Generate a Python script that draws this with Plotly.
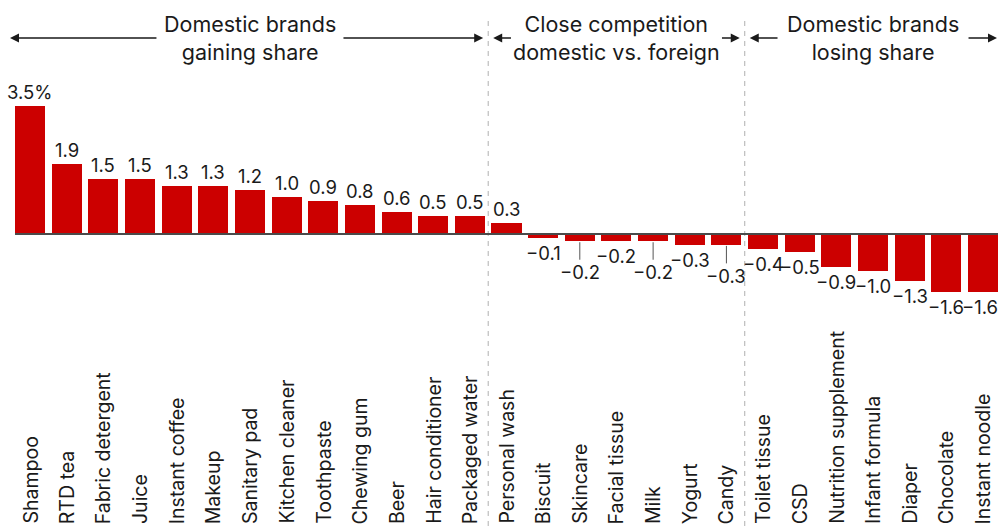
import plotly.graph_objects as go

# Change in domestic brands' market share by category (percentage points)
categories = [
    "Shampoo", "RTD tea", "Fabric detergent", "Juice", "Instant coffee",
    "Makeup", "Sanitary pad", "Kitchen cleaner", "Toothpaste", "Chewing gum",
    "Beer", "Hair conditioner", "Packaged water", "Personal wash", "Biscuit",
    "Skincare", "Facial tissue", "Milk", "Yogurt", "Candy", "Toilet tissue",
    "CSD", "Nutrition supplement", "Infant formula", "Diaper", "Chocolate",
    "Instant noodle",
]
share_change = [
    3.5, 1.9, 1.5, 1.5, 1.3, 1.3, 1.2, 1.0, 0.9, 0.8, 0.6, 0.5, 0.5, 0.3,
    -0.1, -0.2, -0.2, -0.2, -0.3, -0.3, -0.4, -0.5, -0.9, -1.0, -1.3, -1.6,
    -1.6,
]
group_titles = [
    "Domestic brands<br>gaining share",
    "Close competition<br>domestic vs. foreign",
    "Domestic brands<br>losing share",
]
group_sizes = [13, 7, 7]
# categories whose value label is dropped lower with a short leader line
leader_labels = ["Skincare", "Milk", "Candy"]

W, H = 998, 526
X_RANGE = [-0.82, 26.41]
Y_RANGE = [-7.98, 6.39]
FONT = "Inter"
RED = "#cc0000"
INK = "#1a1a1a"


def x_to_px(x):
    return (x - X_RANGE[0]) / (X_RANGE[1] - X_RANGE[0]) * W


def fmt(v, first):
    s = f"{abs(v):.1f}"
    if v < 0:
        s = "\u2212" + s
    return s + ("%" if first else "")


idx = list(range(len(categories)))

fig = go.Figure(
    go.Bar(
        x=idx,
        y=share_change,
        width=0.82,
        marker=dict(color=RED, line=dict(width=0)),
        hoverinfo="skip",
    )
)

shapes = []
annotations = []

# zero baseline
shapes.append(dict(
    type="line", xref="x", yref="y", x0=-0.41, x1=X_RANGE[1], y0=0, y1=0,
    line=dict(color="#4a4a4a", width=2), layer="above",
))

# group boundaries and headers
bounds = []
start = 0
for n in group_sizes:
    bounds.append((start, start + n - 1))
    start += n

for b in bounds[:-1]:
    shapes.append(dict(
        type="line", xref="x", yref="paper", x0=b[1] + 0.5, x1=b[1] + 0.5,
        y0=0, y1=1 - 18 / H,
        line=dict(color="#b0b0b0", width=1, dash="5px,5px"), layer="below",
    ))

half_gaps = [92, 104, 94]
arrow_y = 1 - 38 / H
for gi, (title, (lo, hi)) in enumerate(zip(group_titles, bounds)):
    center = (lo + hi) / 2
    cpx = x_to_px(center)
    annotations.append(dict(
        x=center, xref="x", y=1 - 38 / H, yref="paper",
        text=title, showarrow=False, xanchor="center", yanchor="middle",
        font=dict(family=FONT, size=21.5, color=INK),
    ))
    left_tip = 10 if gi == 0 else x_to_px(lo - 0.5) + 5
    right_tip = 1000 if gi == len(bounds) - 1 else x_to_px(hi + 0.5) - 5
    for tip, tail in ((left_tip, cpx - half_gaps[gi]),
                      (right_tip, cpx + half_gaps[gi])):
        annotations.append(dict(
            x=tip / W, xref="paper", y=arrow_y, yref="paper",
            ax=tail - tip, ay=0, axref="pixel", ayref="pixel",
            text="", showarrow=True, arrowhead=2, arrowsize=1.2,
            arrowwidth=1.5, arrowcolor=INK, standoff=0,
        ))

# value labels
last = len(categories) - 1
for i, (cat, v) in enumerate(zip(categories, share_change)):
    label = fmt(v, i == 0)
    if cat in leader_labels:
        annotations.append(dict(
            x=i, y=v, xref="x", yref="y", text=label,
            showarrow=True, arrowhead=0, arrowwidth=1, arrowcolor="#555555",
            ax=0, ay=31, standoff=1,
            font=dict(family=FONT, size=18.5, color=INK),
        ))
    else:
        annotations.append(dict(
            x=i, y=v, xref="x", yref="y", text=label, showarrow=False,
            xanchor="center", yanchor="bottom" if v >= 0 else "top",
            yshift=1 if v >= 0 else -2,
            xshift=-3 if i == last else 0,
            font=dict(family=FONT, size=18.5, color=INK),
        ))

# rotated category labels along the bottom
for i, cat in enumerate(categories):
    annotations.append(dict(
        x=i, xref="x", y=0, yref="paper", text=cat, showarrow=False,
        textangle=-90, xanchor="center", yanchor="bottom", yshift=0,
        font=dict(family=FONT, size=19.5, color=INK),
    ))

fig.update_layout(
    width=W, height=H,
    margin=dict(l=0, r=0, t=0, b=0),
    paper_bgcolor="white", plot_bgcolor="white",
    showlegend=False,
    bargap=0,
    xaxis=dict(range=X_RANGE, visible=False, fixedrange=True),
    yaxis=dict(range=Y_RANGE, visible=False, fixedrange=True),
    shapes=shapes,
    annotations=annotations,
)

fig.write_html("out.html")
